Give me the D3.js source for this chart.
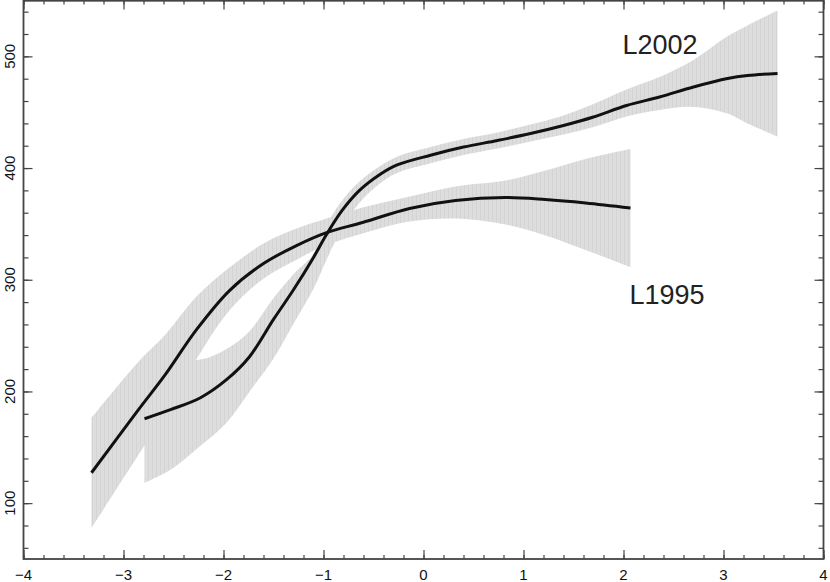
<!DOCTYPE html>
<html>
<head>
<meta charset="utf-8">
<script src="https://cdn.jsdelivr.net/npm/d3@7/dist/d3.min.js"></script>
<style>
  body { margin: 0; background: #fff; }
  svg { display: block; }
  .tick-label { font-family: "Liberation Sans", Arial, sans-serif; font-size: 15px; fill: #111; }
  .curve-label { font-family: "Liberation Sans", Arial, sans-serif; font-size: 27px; fill: #222; }
</style>
</head>
<body>
<div id="main_div"></div>
<script>
// L1995 fit with band
var x1995 = [-3.32, -2.85, -2.59, -2.27, -1.94, -1.6, -1.27, -0.97, -0.61, -0.14, 0.32, 0.82, 1.22, 1.62, 2.07];
var fit1995 = [127.2, 183.7, 214.1, 255.3, 290.3, 314.5, 330.6, 342.2, 351.2, 363.8, 370.9, 373.6, 371.8, 368.7, 364.2];
var up1995 = [176.5, 226.7, 250, 284.9, 310.9, 332.4, 345.8, 354.8, 364.6, 374.5, 383.5, 388.8, 397.8, 408.1, 417];
var lo1995 = [77.9, 143.3, 180.1, 229, 272.7, 301, 318, 331, 341.4, 352.1, 354.8, 349.4, 339.6, 326.6, 311.3];

// L2002 fit with band
var x2002 = [-2.79, -2.53, -2.23, -1.97, -1.74, -1.5, -1.3, -1.1, -0.97, -0.81, -0.64, -0.44, -0.27, 0.07, 0.4, 0.74, 1.07, 1.4, 1.7, 2.03, 2.36, 2.7, 3.04, 3.24, 3.54];
var fit2002 = [175.6, 183.7, 194.4, 210.5, 231.1, 264.5, 291, 320, 340.5, 362.5, 380, 394, 402.6, 411.5, 418.8, 424.7, 430.9, 438.1, 445.7, 456, 463.6, 472.6, 480.2, 482.9, 484.7];
var up2002 = [231.1, 229, 228.5, 238, 254, 283.7, 305, 323, 349, 371.5, 388, 401.5, 410, 418.8, 426, 431.9, 439, 447.1, 457.4, 470.4, 481.6, 496.8, 517.9, 527.7, 541.1];
var lo2002 = [118.2, 129.9, 151.4, 172, 199.8, 229.4, 260.7, 292, 318, 346.5, 369, 386, 395.4, 404.3, 411.7, 417.5, 423.8, 430, 436.8, 446.2, 452, 454.7, 448.8, 439.9, 428.2];

var xTicks = [-4, -3, -2, -1, 0, 1, 2, 3, 4];
var yTicks = [100, 200, 300, 400, 500];
var curveNames = ["L2002", "L1995"];
var labelX = [1.99, 2.06];
var labelY = [502, 278];

var W = 830, H = 582;
var x_scale = d3.scaleLinear().domain([-4, 4]).range([23.5, 823.5]);
var y_scale = d3.scaleLinear().domain([50, 550]).range([559, 0.5]);

var svg = d3.select("#main_div").append("svg").attr("width", W).attr("height", H);

// faint vertical hatching inside the bands
var pat = svg.append("defs").append("pattern")
    .attr("id", "band").attr("patternUnits", "userSpaceOnUse")
    .attr("width", 4).attr("height", 10);
pat.append("rect").attr("width", 4).attr("height", 10).attr("fill", "#dddddd");
pat.append("rect").attr("width", 1).attr("height", 10).attr("fill", "#d4d4d4");

function rows(xs, fit, lo, up) {
    return xs.map(function(d, i) { return {x: d, y: fit[i], lo: lo[i], hi: up[i]}; });
}
var series = [rows(x1995, fit1995, lo1995, up1995), rows(x2002, fit2002, lo2002, up2002)];

var area = d3.area()
    .x(function(d) { return x_scale(d.x); })
    .y0(function(d) { return y_scale(d.lo); })
    .y1(function(d) { return y_scale(d.hi); })
    .curve(d3.curveCatmullRom.alpha(0.5));
var line = d3.line()
    .x(function(d) { return x_scale(d.x); })
    .y(function(d) { return y_scale(d.y); })
    .curve(d3.curveCatmullRom.alpha(0.5));

svg.append("g").selectAll("path").data(series).enter().append("path")
    .attr("d", area)
    .attr("fill", "url(#band)");

svg.append("g").selectAll("path").data(series).enter().append("path")
    .attr("d", line)
    .attr("fill", "none")
    .attr("stroke", "#111")
    .attr("stroke-width", 3);

// ticks on all four sides, pointing in
var xMinor = d3.range(-4, 4.01, 0.2);
var yMinor = d3.range(60, 551, 20);
function axisStyle(g) {
    g.select(".domain").remove();
    g.selectAll("line").attr("stroke", "#444").attr("stroke-width", 1.2);
    g.selectAll("text").remove();
}
svg.append("g").attr("transform", "translate(0,559)")
    .call(d3.axisBottom(x_scale).tickValues(xMinor).tickSize(-4)).call(axisStyle);
svg.append("g").attr("transform", "translate(0,559)")
    .call(d3.axisBottom(x_scale).tickValues(xTicks).tickSize(-9)).call(axisStyle);
svg.append("g").attr("transform", "translate(0,0.5)")
    .call(d3.axisTop(x_scale).tickValues(xMinor).tickSize(-4)).call(axisStyle);
svg.append("g").attr("transform", "translate(0,0.5)")
    .call(d3.axisTop(x_scale).tickValues(xTicks).tickSize(-9)).call(axisStyle);
svg.append("g").attr("transform", "translate(23.5,0)")
    .call(d3.axisLeft(y_scale).tickValues(yMinor).tickSize(-5)).call(axisStyle);
svg.append("g").attr("transform", "translate(23.5,0)")
    .call(d3.axisLeft(y_scale).tickValues(yTicks).tickSize(-9)).call(axisStyle);
svg.append("g").attr("transform", "translate(823.5,0)")
    .call(d3.axisRight(y_scale).tickValues(yMinor).tickSize(-5)).call(axisStyle);
svg.append("g").attr("transform", "translate(823.5,0)")
    .call(d3.axisRight(y_scale).tickValues(yTicks).tickSize(-9)).call(axisStyle);

svg.append("rect")
    .attr("x", 23.5).attr("y", 0.75)
    .attr("width", 800).attr("height", 558.25)
    .attr("fill", "none").attr("stroke", "#444").attr("stroke-width", 1.8);

var fmt = d3.format("d");
svg.append("g").selectAll("text").data(xTicks).enter().append("text")
    .attr("class", "tick-label")
    .attr("x", function(d) { return x_scale(d); })
    .attr("y", 574)
    .attr("text-anchor", "middle")
    .attr("dominant-baseline", "central")
    .text(function(d) { return fmt(d); });

svg.append("g").selectAll("text").data(yTicks).enter().append("text")
    .attr("class", "tick-label")
    .attr("transform", function(d) { return "translate(9," + y_scale(d) + ") rotate(-90)"; })
    .attr("text-anchor", "middle")
    .attr("dominant-baseline", "central")
    .text(function(d) { return fmt(d); });

svg.append("g").selectAll("text").data(curveNames).enter().append("text")
    .attr("class", "curve-label")
    .attr("x", function(d, i) { return x_scale(labelX[i]); })
    .attr("y", function(d, i) { return y_scale(labelY[i]); })
    .text(function(d) { return d; });
</script>
</body>
</html>
